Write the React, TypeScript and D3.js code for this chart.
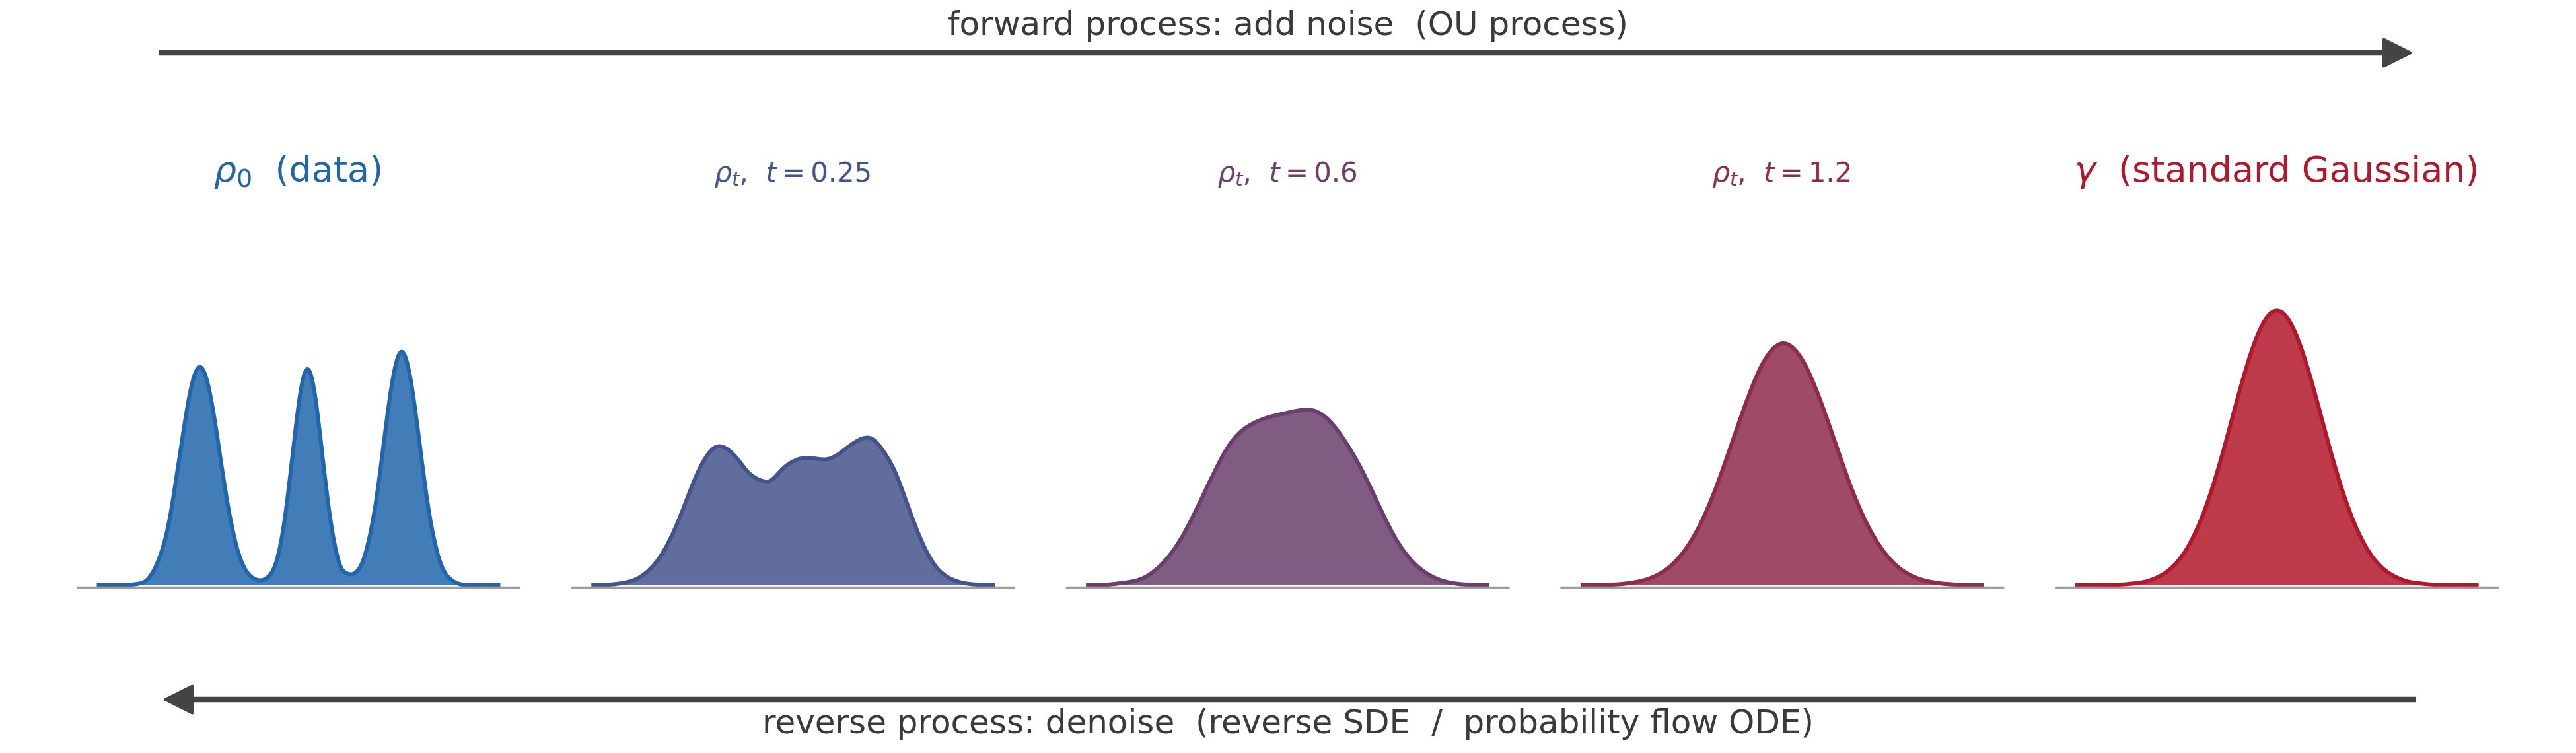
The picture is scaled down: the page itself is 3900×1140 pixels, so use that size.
import { useRef, useEffect } from 'react';
import * as d3 from 'd3';

type Pt = [number, number];

// density curves (x in [-4.5, 4.5], y = density)
const rho0: Pt[] = [
  [-4.5, 0], [-4.0, 0.0001], [-3.6, 0.002], [-3.3, 0.0139], [-3.0, 0.0607], [-2.8, 0.125],
  [-2.6, 0.210], [-2.4, 0.286], [-2.2, 0.317], [-2.0, 0.286], [-1.8, 0.210], [-1.6, 0.125],
  [-1.4, 0.0607], [-1.25, 0.031], [-1.1, 0.015], [-0.9, 0.0075], [-0.7, 0.011], [-0.5, 0.033],
  [-0.3, 0.100], [-0.1, 0.208], [0.05, 0.283], [0.2, 0.314], [0.35, 0.283], [0.5, 0.207],
  [0.7, 0.100], [0.9, 0.034], [1.05, 0.018], [1.2, 0.016], [1.35, 0.024], [1.5, 0.048],
  [1.7, 0.110], [1.9, 0.206], [2.1, 0.299], [2.3, 0.339], [2.5, 0.299], [2.7, 0.206],
  [2.9, 0.110], [3.1, 0.046], [3.3, 0.0149], [3.6, 0.0017], [4.0, 0.0001], [4.5, 0],
];

const rhoT025: Pt[] = [
  [-4.5, 0], [-4.25, 0.0005], [-4.0, 0.0015], [-3.75, 0.004], [-3.5, 0.009], [-3.25, 0.020],
  [-3.0, 0.038], [-2.75, 0.066], [-2.5, 0.103], [-2.25, 0.145], [-2.0, 0.180], [-1.75, 0.200],
  [-1.5, 0.199], [-1.25, 0.184], [-1.0, 0.164], [-0.75, 0.153], [-0.5, 0.152], [-0.25, 0.168],
  [0.0, 0.180], [0.25, 0.185], [0.5, 0.184], [0.75, 0.183], [1.0, 0.190], [1.25, 0.202],
  [1.5, 0.212], [1.75, 0.213], [2.0, 0.196], [2.25, 0.168], [2.5, 0.126], [2.75, 0.082],
  [3.0, 0.046], [3.25, 0.022], [3.5, 0.010], [3.75, 0.004], [4.0, 0.0015], [4.25, 0.0005],
  [4.5, 0],
];

const rhoT06: Pt[] = [
  [-4.5, 0], [-4.0, 0.001], [-3.6, 0.004], [-3.17, 0.012], [-2.65, 0.042], [-2.19, 0.090],
  [-1.73, 0.152], [-1.34, 0.200], [-0.95, 0.228], [-0.43, 0.244], [0.10, 0.252], [0.49, 0.255],
  [0.88, 0.242], [1.28, 0.209], [1.67, 0.165], [2.06, 0.112], [2.45, 0.063], [2.85, 0.030],
  [3.24, 0.012], [3.6, 0.004], [4.0, 0.001], [4.5, 0],
];

const rhoT12: Pt[] = [
  [-4.5, 0], [-4.0, 0.0006], [-3.5, 0.0025], [-3.0, 0.0091], [-2.5, 0.0274], [-2.0, 0.068],
  [-1.5, 0.138], [-1.0, 0.230], [-0.5, 0.314], [0.0, 0.351], [0.5, 0.321], [1.0, 0.241],
  [1.5, 0.148], [2.0, 0.075], [2.5, 0.031], [3.0, 0.0104], [3.5, 0.0029], [4.0, 0.0007],
  [4.5, 0],
];

const gammaStd: Pt[] = [
  [-4.5, 0], [-4.0, 0.0001], [-3.5, 0.0009], [-3.0, 0.0044], [-2.75, 0.0091], [-2.5, 0.0175],
  [-2.25, 0.0317], [-2.0, 0.0540], [-1.75, 0.0863], [-1.5, 0.1295], [-1.25, 0.1826],
  [-1.0, 0.2420], [-0.75, 0.3011], [-0.5, 0.3521], [-0.25, 0.3867], [0.0, 0.3989],
  [0.25, 0.3867], [0.5, 0.3521], [0.75, 0.3011], [1.0, 0.2420], [1.25, 0.1826], [1.5, 0.1295],
  [1.75, 0.0863], [2.0, 0.0540], [2.25, 0.0317], [2.5, 0.0175], [2.75, 0.0091], [3.0, 0.0044],
  [3.5, 0.0009], [4.0, 0.0001], [4.5, 0],
];

const panelCurves = [rho0, rhoT025, rhoT06, rhoT12, gammaStd];

// title pieces
const panelSymbols = ['ρ', 'ρ', 'ρ', 'ρ', 'γ'];
const panelSubs = ['0', 't', 't', 't', ''];
const panelTimes = ['', '0.25', '0.6', '1.2', ''];
const panelNotes = ['(data)', '', '', '', '(standard Gaussian)'];

const forwardLabel = 'forward process: add noise  (OU process)';
const reverseLabel = 'reverse process: denoise  (reverse SDE  /  probability flow ODE)';

const WIDTH = 3900;
const HEIGHT = 1140;

export default function App() {
  const svgRef = useRef<SVGSVGElement>(null);

  useEffect(() => {
    if (!svgRef.current) return;
    const svg = d3.select(svgRef.current);
    svg.selectAll('*').remove();

    const font = 'DejaVu Sans, Verdana, sans-serif';
    const arrowColor = '#444444';
    const textColor = '#3a3a3a';
    const colorAt = d3.interpolateRgb('#2166ac', '#b2182b');

    svg.append('rect').attr('width', WIDTH).attr('height', HEIGHT).attr('fill', '#fff');

    // panel layout
    const panelLeft = 116;
    const panelStep = 748.8;
    const panelWidth = 672;
    const y = d3.scaleLinear().domain([0, 0.4]).range([886, 469]);

    panelCurves.forEach((pts, i) => {
      const left = panelLeft + i * panelStep;
      const color = colorAt(i / 4);
      // matplotlib-like 5% x margins
      const x = d3.scaleLinear().domain([-4.95, 4.95]).range([left, left + panelWidth]);

      const g = svg.append('g');

      const area = d3.area<Pt>()
        .x(d => x(d[0]))
        .y0(y(0))
        .y1(d => y(d[1]))
        .curve(d3.curveNatural);

      const line = d3.line<Pt>()
        .x(d => x(d[0]))
        .y(d => y(d[1]))
        .curve(d3.curveNatural);

      g.append('path')
        .datum(pts)
        .attr('fill', color)
        .attr('fill-opacity', 0.85)
        .attr('d', area);

      g.append('path')
        .datum(pts)
        .attr('fill', 'none')
        .attr('stroke', color)
        .attr('stroke-width', 6)
        .attr('stroke-linejoin', 'round')
        .attr('d', line);

      // baseline
      g.append('line')
        .attr('x1', left)
        .attr('x2', left + panelWidth)
        .attr('y1', y(0) + 3.5)
        .attr('y2', y(0) + 3.5)
        .attr('stroke', '#9c9c9c')
        .attr('stroke-width', 3.3);

      // title
      const big = panelNotes[i] !== '';
      const fs = big ? 54 : 41.7;
      const shift = fs * 0.15;
      const title = g.append('text')
        .attr('x', left + panelWidth / 2)
        .attr('y', 275)
        .attr('text-anchor', 'middle')
        .attr('font-family', font)
        .attr('font-size', fs)
        .attr('fill', color)
        .style('white-space', 'pre');

      title.append('tspan').attr('font-style', 'italic').text(panelSymbols[i]);
      if (panelSubs[i]) {
        title.append('tspan')
          .attr('font-size', fs * 0.7)
          .attr('dy', shift)
          .attr('font-style', panelSubs[i] === 't' ? 'italic' : 'normal')
          .text(panelSubs[i]);
      }
      if (panelTimes[i]) {
        title.append('tspan').attr('dy', panelSubs[i] ? -shift : 0).text(',  ');
        title.append('tspan').attr('font-style', 'italic').text('t');
        title.append('tspan').text('\u2009=\u2009' + panelTimes[i]);
      } else {
        title.append('tspan').attr('dy', panelSubs[i] ? -shift : 0).text('  ' + panelNotes[i]);
      }
    });

    // process arrows
    const drawArrow = (tail: number, tip: number, ay: number) => {
      const dir = tip > tail ? 1 : -1;
      const headLen = 43;
      const base = tip - dir * headLen;
      svg.append('line')
        .attr('x1', tail)
        .attr('x2', base)
        .attr('y1', ay)
        .attr('y2', ay)
        .attr('stroke', arrowColor)
        .attr('stroke-width', 8.5);
      svg.append('polygon')
        .attr('points', `${base},${ay - 20.5} ${tip - dir * 2},${ay} ${base},${ay + 20.5}`)
        .attr('fill', arrowColor)
        .attr('stroke', arrowColor)
        .attr('stroke-width', 4)
        .attr('stroke-linejoin', 'round');
    };

    drawArrow(240, 3652, 80);
    drawArrow(3658, 248, 1059);

    svg.append('text')
      .attr('x', 1950)
      .attr('y', 53)
      .attr('text-anchor', 'middle')
      .attr('font-family', font)
      .attr('font-size', 50)
      .attr('fill', textColor)
      .style('white-space', 'pre')
      .text(forwardLabel);

    svg.append('text')
      .attr('x', 1950)
      .attr('y', 1110)
      .attr('text-anchor', 'middle')
      .attr('font-family', font)
      .attr('font-size', 50)
      .attr('fill', textColor)
      .style('white-space', 'pre')
      .text(reverseLabel);
  }, []);

  return (
    <svg
      ref={svgRef}
      width={WIDTH}
      height={HEIGHT}
      style={{ position: 'absolute', left: 0, top: 0, display: 'block' }}
    />
  );
}
